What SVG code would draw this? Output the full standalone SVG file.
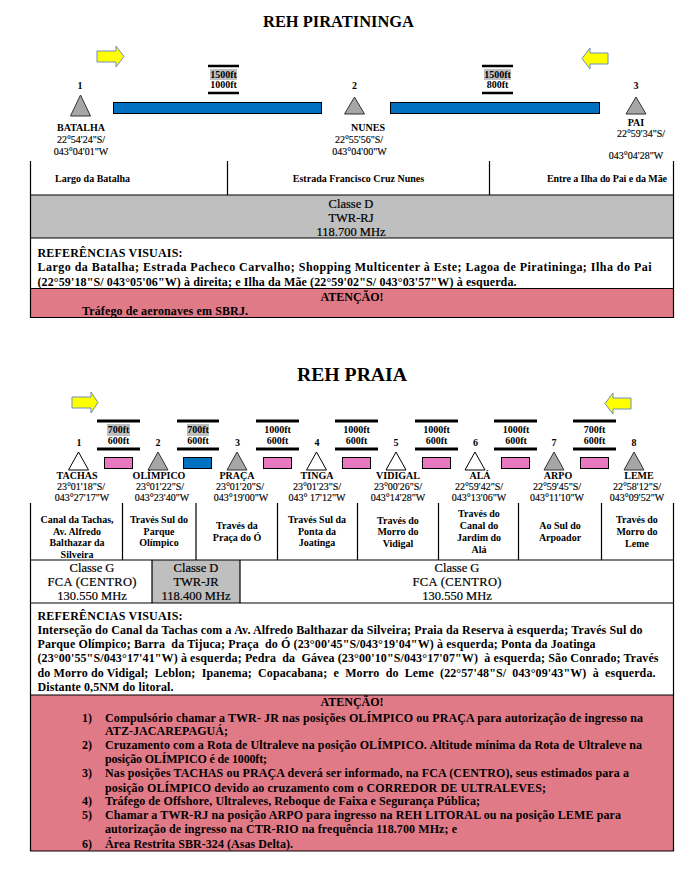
<svg xmlns="http://www.w3.org/2000/svg" width="684" height="875" viewBox="0 0 684 875">
<style>
text{font-family:"Liberation Serif","Times New Roman",serif;fill:#000;white-space:pre}
.title{font-weight:bold;text-anchor:middle}
.b{font-size:10px;font-weight:bold}
.c{text-anchor:middle}
.n{font-size:10px;text-anchor:middle;stroke:#000;stroke-width:.15}
.m{font-size:12.500px;text-anchor:middle;stroke:#000;stroke-width:.2}
.p{font-size:12px;font-weight:bold}
.line{stroke:#000;stroke-width:1.2;fill:none}
.bar{stroke:#000;stroke-width:2.5;fill:none}
.tg{fill:#A6A6A6;stroke:#333;stroke-width:1}
.tw{fill:#fff;stroke:#000;stroke-width:1}
.blue{fill:#0070C0;stroke:#000;stroke-width:1}
.pink{fill:#E878C0;stroke:#000;stroke-width:1}
.arrow{fill:#FFFF00;stroke:#6C8EBF;stroke-width:1}
.hl{fill:#BFBFBF}
.sal{fill:#E07A87}
</style>
<rect width="684" height="875" fill="#fff"/>

<g id="reh-piratininga">
<text class="title" x="338.500" y="27" font-size="17" textLength="151" lengthAdjust="spacingAndGlyphs">REH PIRATININGA</text>
<g id="arrows-1">
<polygon class="arrow" points="97,51 116,51 116,46 124,56.500 116,67 116,62 97,62"/>
<polygon class="arrow" points="608,53 590,53 590,48 582,58.500 590,69 590,64 608,64"/>
</g>
<g id="batalha">
<text class="b c" x="80" y="89">1</text>
<polygon class="tg" points="80.500,95 70.500,116 90.500,116"/>
<text class="b c" x="81" y="131">BATALHA</text>
<text class="n" x="81" y="143">22°54'24"S/</text>
<text class="n" x="81" y="155">043°04'01"W</text>
</g>
<g id="nunes">
<text class="b c" x="354.500" y="89">2</text>
<polygon class="tg" points="354.500,97 344.500,114 364.500,114"/>
<text class="b c" x="368" y="131">NUNES</text>
<text class="n" x="359" y="143">22°55'56"S/</text>
<text class="n" x="359.500" y="155">043°04'00"W</text>
</g>
<g id="pai">
<text class="b c" x="636" y="89">3</text>
<polygon class="tg" points="636,97 626,114 646,114"/>
<text class="b c" x="636" y="126">PAI</text>
<text class="n" x="641" y="137">22°59'34"S/</text>
<text class="n" x="636" y="159">043°04'28"W</text>
</g>
<g id="seg-1">
<path class="bar" d="M208 66H239M208 93H239"/>
<rect class="hl" x="210" y="69" width="27" height="11"/>
<text class="b c" x="223.500" y="77.500">1500ft</text><text class="b c" x="223.500" y="88">1000ft</text>
<rect class="blue" x="113.500" y="102.500" width="208" height="11"/>
</g>
<g id="seg-2">
<path class="bar" d="M482 66H513M482 93H513"/>
<rect class="hl" x="484" y="69" width="27" height="11"/>
<text class="b c" x="497.500" y="77.500">1500ft</text><text class="b c" x="497.500" y="88">800ft</text>
<rect class="blue" x="390.500" y="102.500" width="209" height="11"/>
</g>
<g id="table-1">
<rect class="hl" x="30.500" y="195" width="643" height="43"/>
<rect class="sal" x="30.500" y="288.500" width="643" height="29"/>
<path class="line" d="M30.500 161V317.500M673.500 161V317.500M227.500 161V195M489.500 161V195M30 195H674M30 238H674M30 288.500H674M30 317.500H674"/>
<text class="b" x="55" y="182">Largo da Batalha</text>
<text class="b c" x="358.500" y="182">Estrada Francisco Cruz Nunes</text>
<text class="b" x="547" y="182" textLength="120">Entre a Ilha do Pai e da Mãe</text>
<text class="m" x="351" y="208">Classe D</text>
<text class="m" x="351" y="222">TWR-RJ</text>
<text class="m" x="351" y="236">118.700 MHz</text>
<text class="p" x="37.500" y="257" textLength="145">REFERÊNCIAS VISUAIS:</text>
<text class="p" x="37.500" y="271" textLength="614">Largo da Batalha; Estrada Pacheco Carvalho; Shopping Multicenter à Este; Lagoa de Piratininga; Ilha do Pai</text>
<text class="p" x="37.500" y="286" textLength="479">(22°59'18"S/ 043°05'06"W) à direita; e Ilha da Mãe (22°59'02"S/ 043°03'57"W) à esquerda.</text>
<text class="p c" x="352" y="301">ATENÇÃO!</text>
<text class="p" x="82" y="315" textLength="166">Tráfego de aeronaves em SBRJ.</text>
</g>
</g>

<g id="reh-praia">
<text class="title" x="352" y="381" font-size="19" textLength="110" lengthAdjust="spacingAndGlyphs">REH PRAIA</text>
<g id="arrows-2">
<polygon class="arrow" points="72,397 91,397 91,392 98,402.500 91,413 91,408 72,408"/>
<polygon class="arrow" points="631,398 613,398 613,393 605,403.500 613,414 613,409 631,409"/>
</g>
<g id="tachas"><text class="b c" x="79" y="446">1</text><polygon class="tw" points="78.500,452 68.500,470 88.500,470"/><text class="b c" x="77" y="479">TACHAS</text><text class="n" x="81" y="490">23°01'18"S/</text><text class="n" x="82" y="501">043°27'17"W</text></g>
<g id="olimpico"><text class="b c" x="158" y="446">2</text><polygon class="tg" points="158,452 148,470 168,470"/><text class="b c" x="159" y="479">OLÍMPICO</text><text class="n" x="160" y="490">23°01'22"S/</text><text class="n" x="162" y="501">043°23'40"W</text></g>
<g id="praca"><text class="b c" x="237.500" y="446">3</text><polygon class="tg" points="237,452 227,470 247,470"/><text class="b c" x="237" y="479">PRAÇA</text><text class="n" x="240" y="490">23°01'20"S/</text><text class="n" x="241" y="501">043°19'00"W</text></g>
<g id="tinga"><text class="b c" x="317" y="446">4</text><polygon class="tw" points="316.500,452 306.500,470 326.500,470"/><text class="b c" x="317" y="479">TINGA</text><text class="n" x="317" y="490">23°01'23"S/</text><text class="n" x="317" y="501">043° 17'12"W</text></g>
<g id="vidigal"><text class="b c" x="396" y="446">5</text><polygon class="tw" points="396,452 386,470 406,470"/><text class="b c" x="398" y="479">VIDIGAL</text><text class="n" x="398" y="490">23°00'26"S/</text><text class="n" x="398" y="501">043°14'28"W</text></g>
<g id="ala"><text class="b c" x="475.500" y="446">6</text><polygon class="tw" points="475,452 465,470 485,470"/><text class="b c" x="480" y="479">ALÁ</text><text class="n" x="479" y="490">22°59'42"S/</text><text class="n" x="479" y="501">043°13'06"W</text></g>
<g id="arpo"><text class="b c" x="554" y="446">7</text><polygon class="tg" points="554,452 544,470 564,470"/><text class="b c" x="558" y="479">ARPO</text><text class="n" x="557" y="490">22°59'45"S/</text><text class="n" x="557" y="501">043°11'10"W</text></g>
<g id="leme"><text class="b c" x="634" y="446">8</text><polygon class="tg" points="634,452 624,470 644,470"/><text class="b c" x="639" y="479">LEME</text><text class="n" x="637" y="490">22°58'12"S/</text><text class="n" x="637" y="501">043°09'52"W</text></g>
<g id="segments-2">
<path class="bar" style="stroke-width:3" d="M97 421H140M97 449H140M177 421H219M177 449H219M256 421H299M256 449H299M335 421H378M335 449H378M415 421H458M415 449H458M494 421H537M494 449H537M573 421H616M573 449H616"/>
<rect class="hl" x="107" y="424" width="23" height="12"/><rect class="hl" x="187" y="424" width="22" height="12"/>
<text class="b c" x="118.500" y="432.500">700ft</text><text class="b c" x="118.500" y="444">600ft</text>
<text class="b c" x="198" y="432.500">700ft</text><text class="b c" x="198" y="444">600ft</text>
<text class="b c" x="277.500" y="432.500">1000ft</text><text class="b c" x="277.500" y="444">600ft</text>
<text class="b c" x="356.500" y="432.500">1000ft</text><text class="b c" x="356.500" y="444">600ft</text>
<text class="b c" x="436.500" y="432.500">1000ft</text><text class="b c" x="436.500" y="444">600ft</text>
<text class="b c" x="516" y="432.500">1000ft</text><text class="b c" x="516" y="444">600ft</text>
<text class="b c" x="594.500" y="432.500">700ft</text><text class="b c" x="594.500" y="444">600ft</text>
<rect class="pink" x="104.500" y="457.500" width="28" height="11"/>
<rect class="blue" x="183.500" y="457.500" width="28" height="11"/>
<rect class="pink" x="263.500" y="457.500" width="28" height="11"/>
<rect class="pink" x="342.500" y="457.500" width="28" height="11"/>
<rect class="pink" x="422.500" y="457.500" width="28" height="11"/>
<rect class="pink" x="501.500" y="457.500" width="28" height="11"/>
<rect class="pink" x="580.500" y="457.500" width="28" height="11"/>
</g>
<g id="table-2">
<rect class="hl" x="152" y="560" width="88" height="43"/>
<rect class="sal" x="30.500" y="695" width="643" height="156"/>
<path class="line" d="M30.500 503V851M673.500 503V851M122.500 503V560M196 503V560M277.500 503V560M357.500 503V560M438.500 503V560M518.500 503V560M601.500 503V560M152 560V603M240 560V603M30 560H674M30 603H674M30 695H674M30 851H674"/>
<text class="b c" x="77" y="523">Canal da Tachas,</text><text class="b c" x="77" y="535">Av. Alfredo</text><text class="b c" x="77" y="546">Balthazar da</text><text class="b c" x="77" y="558">Silveira</text>
<text class="b c" x="159" y="523">Través Sul do</text><text class="b c" x="159" y="535">Parque</text><text class="b c" x="159" y="546">Olímpico</text>
<text class="b c" x="237" y="529">Través da</text><text class="b c" x="237" y="541">Praça do Ó</text>
<text class="b c" x="317" y="523">Través Sul da</text><text class="b c" x="317" y="535">Ponta da</text><text class="b c" x="317" y="546">Joatinga</text>
<text class="b c" x="398" y="524">Través do</text><text class="b c" x="398" y="535">Morro do</text><text class="b c" x="398" y="547">Vidigal</text>
<text class="b c" x="479" y="517" font-size="10.500">Través do</text><text class="b c" x="479" y="529" font-size="10.500">Canal do</text><text class="b c" x="479" y="541" font-size="10.500">Jardim do</text><text class="b c" x="479" y="553" font-size="10.500">Alá</text>
<text class="b c" x="560" y="529">Ao Sul do</text><text class="b c" x="560" y="541">Arpoador</text>
<text class="b c" x="637" y="523">Través do</text><text class="b c" x="637" y="535">Morro do</text><text class="b c" x="637" y="547">Leme</text>
<text class="m" x="92" y="572">Classe G</text><text class="m" x="92" y="586" textLength="89">FCA (CENTRO)</text><text class="m" x="92" y="600">130.550 MHz</text>
<text class="m" x="196" y="572">Classe D</text><text class="m" x="196" y="586">TWR-JR</text><text class="m" x="196" y="600">118.400 MHz</text>
<text class="m" x="457" y="572">Classe G</text><text class="m" x="457" y="586" textLength="89">FCA (CENTRO)</text><text class="m" x="457" y="600">130.550 MHz</text>
<text class="p" x="37.500" y="620" textLength="145">REFERÊNCIAS VISUAIS:</text>
<text class="p" x="37.500" y="634" textLength="605">Interseção do Canal da Tachas com a Av. Alfredo Balthazar da Silveira; Praia da Reserva à esquerda; Través Sul do</text>
<text class="p" x="37.500" y="648" textLength="558">Parque Olímpico; Barra  da Tijuca; Praça  do Ó (23°00'45"S/043°19'04"W) à esquerda; Ponta da Joatinga</text>
<text class="p" x="37.500" y="662" textLength="621">(23°00'55"S/043°17'41"W) à esquerda; Pedra  da  Gávea (23°00'10"S/043°17'07"W)  à esquerda; São Conrado; Través</text>
<text class="p" x="37.500" y="677" textLength="618">do Morro do Vidigal;  Leblon;  Ipanema;  Copacabana;  e  Morro  do  Leme  (22°57'48"S/  043°09'43"W)  à  esquerda.</text>
<text class="p" x="37.500" y="691" textLength="136">Distante 0,5NM do litoral.</text>
<text class="p c" x="352" y="706">ATENÇÃO!</text>
<text class="p" x="82" y="722">1)</text><text class="p" x="105" y="722" textLength="538">Compulsório chamar a TWR- JR nas posições OLÍMPICO ou PRAÇA para autorização de ingresso na</text>
<text class="p" x="105" y="735" textLength="123">ATZ-JACAREPAGUÁ;</text>
<text class="p" x="82" y="749">2)</text><text class="p" x="105" y="749" textLength="537">Cruzamento com a Rota de Ultraleve na posição OLÍMPICO. Altitude mínima da Rota de Ultraleve na</text>
<text class="p" x="105" y="763" textLength="162">posição OLÍMPICO é de 1000ft;</text>
<text class="p" x="82" y="777">3)</text><text class="p" x="105" y="777" textLength="524">Nas posições TACHAS ou PRAÇA deverá ser informado, na FCA (CENTRO), seus estimados para a</text>
<text class="p" x="105" y="792" textLength="441">posição OLÍMPICO devido ao cruzamento com o CORREDOR DE ULTRALEVES;</text>
<text class="p" x="82" y="805">4)</text><text class="p" x="105" y="805" textLength="375">Tráfego de Offshore, Ultraleves, Reboque de Faixa e Segurança Pública;</text>
<text class="p" x="82" y="819">5)</text><text class="p" x="105" y="819" textLength="516">Chamar a TWR-RJ na posição ARPO para ingresso na REH LITORAL ou na posição LEME para</text>
<text class="p" x="105" y="833" textLength="352">autorização de ingresso na CTR-RIO na frequência 118.700 MHz; e</text>
<text class="p" x="82" y="848">6)</text><text class="p" x="105" y="848" textLength="188">Área Restrita SBR-324 (Asas Delta).</text>
</g>
</g>
</svg>
